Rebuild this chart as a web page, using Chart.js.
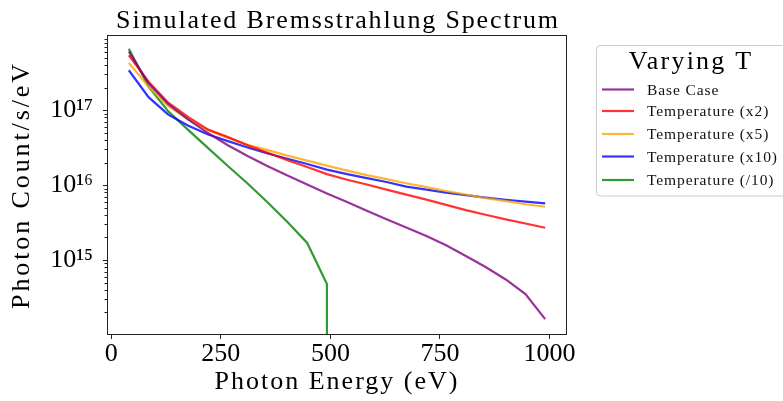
<!DOCTYPE html>
<html><head><meta charset="utf-8">
<script src="https://cdn.jsdelivr.net/npm/chart.js@4"></script>
<style>html,body{margin:0;padding:0;background:#fff;overflow:hidden}#wrap{width:783px;height:401px}</style>
</head><body><div id="wrap"><canvas id="c" width="783" height="401"></canvas></div>
<script>
// ---- data ----
const energies = [40, 85, 130, 176, 221, 266, 311, 357, 402, 447, 492, 538, 583, 628, 673, 719, 764, 809, 854, 900, 945, 990];
const baseCase = [6.1e17, 2.29e17, 1.2e17, 7.47e16, 4.93e16, 3.41e16, 2.44e16, 1.79e16, 1.34e16, 1.02e16, 7.74e15, 5.93e15, 4.54e15, 3.49e15, 2.71e15, 2.09e15, 1.57e15, 1.13e15, 8.07e14, 5.5e14, 3.52e14, 1.63e14];
const tempX2 = [5.41e17, 2.4e17, 1.26e17, 8.07e16, 5.5e16, 4.37e16, 3.41e16, 2.71e16, 2.15e16, 1.74e16, 1.4e16, 1.18e16, 1.02e16, 8.71e15, 7.47e15, 6.41e15, 5.45e15, 4.64e15, 4.02e15, 3.49e15, 3.07e15, 2.7e15];
const tempX5 = [4.28e17, 2.06e17, 1.13e17, 7.47e16, 5.41e16, 4.3e16, 3.44e16, 2.93e16, 2.47e16, 2.12e16, 1.82e16, 1.56e16, 1.36e16, 1.2e16, 1.06e16, 9.4e15, 8.35e15, 7.5e15, 6.7e15, 6.1e15, 5.55e15, 5.14e15];
const tempX10 = [3.41e17, 1.49e17, 8.71e16, 6.18e16, 4.73e16, 3.86e16, 3.18e16, 2.64e16, 2.25e16, 1.91e16, 1.61e16, 1.4e16, 1.24e16, 1.1e16, 9.55e15, 8.71e15, 7.94e15, 7.36e15, 6.81e15, 6.37e15, 6.01e15, 5.7e15];
const tempDiv10 = [6.61e17, 2.06e17, 9.64e16, 5.41e16, 3.11e16, 1.8e16, 1.05e16, 5.85e15, 3.21e15, 1.69e15, 4.8e14, 0, 0, 0, 0, 0, 0, 0, 0, 0, 0, 0];
const seriesNames = ['Base Case', 'Temperature (x2)', 'Temperature (x5)', 'Temperature (x10)', 'Temperature (/10)'];
const seriesColors = ['rgba(128,0,128,0.8)', 'rgba(255,0,0,0.8)', 'rgba(255,165,0,0.8)', 'rgba(0,0,255,0.8)', 'rgba(0,128,0,0.8)'];
const xTickValues = [0, 250, 500, 750, 1000];
const xTickLabels = ['0', '250', '500', '750', '1000'];
const yMajorTicks = [1e15, 1e16, 1e17];
const yTickLabels = ['10¹⁵', '10¹⁶', '10¹⁷'];
const chartTitle = 'Simulated Bremsstrahlung Spectrum';
const xTitle = 'Photon Energy (eV)';
const yTitle = 'Photon Count/s/eV';
const legendTitle = 'Varying T';

const FONT = "'Liberation Serif', 'DejaVu Serif', serif";
const allSeries = [baseCase, tempX2, tempX5, tempX10, tempDiv10];
// zero values are clipped to a tiny positive number on the log axis (as matplotlib does)
const datasets = allSeries.map((vals, i) => ({
  label: seriesNames[i],
  data: energies.map((e, j) => ({x: e, y: vals[j] > 0 ? vals[j] : 1e-300})),
  borderColor: seriesColors[i],
  backgroundColor: seriesColors[i],
  borderWidth: 2.2,
  pointRadius: 0,
  tension: 0,
  fill: false
}));

const Y_MIN = 1.03e14, Y_MAX = 9.77e17;

function spaced(ctx, px, fn) { ctx.save(); ctx.letterSpacing = px + 'px'; fn(); ctx.restore(); }

const decor = {
  id: 'decor',
  beforeDraw(chart) {
    const c = chart.ctx;
    c.save(); c.fillStyle = '#fff'; c.fillRect(0, 0, chart.width, chart.height); c.restore();
  },
  afterDraw(chart) {
    const c = chart.ctx, a = chart.chartArea, ys = chart.scales.y;
    c.save();
    // frame
    c.strokeStyle = '#222'; c.lineWidth = 1;
    c.strokeRect(a.left - 0.5, a.top - 0.5, a.right - a.left + 1, a.bottom - a.top + 1);
    // minor log ticks
    for (let e = 13; e <= 18; e++) {
      for (let m = 2; m <= 9; m++) {
        const v = m * Math.pow(10, e);
        if (v < Y_MIN || v > Y_MAX) continue;
        const y = Math.round(ys.getPixelForValue(v)) + 0.5;
        c.beginPath(); c.moveTo(a.left - 0.5, y); c.lineTo(a.left - 3.5, y); c.stroke();
      }
    }
    // title
    c.fillStyle = '#000';
    c.font = '26px ' + FONT;
    c.textAlign = 'center'; c.textBaseline = 'alphabetic';
    spaced(c, 1.85, () => c.fillText(chartTitle, (a.left + a.right) / 2 + 1, 28));
    // legend
    const bx = 596.5, by = 45.5, bw = 190, bh = 150.5, r = 4;
    c.beginPath();
    c.moveTo(bx + r, by); c.lineTo(bx + bw - r, by); c.quadraticCurveTo(bx + bw, by, bx + bw, by + r);
    c.lineTo(bx + bw, by + bh - r); c.quadraticCurveTo(bx + bw, by + bh, bx + bw - r, by + bh);
    c.lineTo(bx + r, by + bh); c.quadraticCurveTo(bx, by + bh, bx, by + bh - r);
    c.lineTo(bx, by + r); c.quadraticCurveTo(bx, by, bx + r, by);
    c.closePath();
    c.fillStyle = 'rgba(255,255,255,0.8)'; c.fill();
    c.strokeStyle = '#cccccc'; c.lineWidth = 1; c.stroke();
    c.fillStyle = '#000';
    c.font = '26px ' + FONT; c.textAlign = 'center';
    spaced(c, 2.2, () => c.fillText(legendTitle, 691, 69));
    const rows = [89.5, 111, 134, 156.5, 180];
    c.font = '15.5px ' + FONT; c.textAlign = 'left'; c.textBaseline = 'middle';
    seriesNames.forEach((n, i) => {
      c.strokeStyle = seriesColors[i]; c.lineWidth = 2.2;
      c.beginPath(); c.moveTo(602, rows[i]); c.lineTo(634, rows[i]); c.stroke();
      c.fillStyle = '#111';
      spaced(c, 0.9, () => c.fillText(n, 647, rows[i] + 1));
    });
    c.restore();
  }
};

const chart = new Chart(document.getElementById('c'), {
  type: 'line',
  data: {datasets},
  plugins: [decor],
  options: {
    responsive: false, animation: false, devicePixelRatio: 1,
    layout: {padding: {left: 0, top: 36, right: 217, bottom: 0}},
    plugins: {legend: {display: false}, title: {display: false}, tooltip: {enabled: false}},
    scales: {
      x: {
        type: 'linear', min: -7.5, max: 1037.5,
        afterBuildTicks(s) { s.ticks = xTickValues.map(v => ({value: v})); },
        afterFit(s) { s.height = 67; },
        grid: {drawOnChartArea: false, drawTicks: true, tickLength: 5, color: '#222'},
        border: {display: false},
        ticks: {
          autoSkip: false, maxRotation: 0, color: '#000', font: {family: FONT, size: 26}, padding: 0,
          callback(v) { const k = xTickValues.indexOf(v); return k >= 0 ? xTickLabels[k] : ''; }
        },
        title: {display: true, text: xTitle, color: '#000', font: {family: FONT, size: 26}, padding: {top: 0, bottom: 3}}
      },
      y: {
        type: 'logarithmic', min: Y_MIN, max: Y_MAX,
        afterBuildTicks(s) { s.ticks = yMajorTicks.map(v => ({value: v, major: true})); },
        afterFit(s) { s.width = 108; },
        grid: {drawOnChartArea: false, drawTicks: true, tickLength: 5, color: '#222'},
        border: {display: false},
        ticks: {
          autoSkip: false, color: '#000', font: {family: FONT, size: 26}, padding: 10,
          callback(v) { const k = yMajorTicks.indexOf(v); return k >= 0 ? yTickLabels[k] : ''; }
        },
        title: {display: true, text: yTitle, color: '#000', font: {family: FONT, size: 26}, padding: {top: 7, bottom: 0}}
      }
    }
  }
});
// axis titles: add letter spacing to approximate the wider Computer Modern glyphs
['x', 'y'].forEach(id => {
  const s = chart.scales[id];
  const orig = s.drawTitle;
  s.drawTitle = function () { const c = this.ctx; c.save(); c.letterSpacing = (id === 'x' ? 2 : 2.9) + 'px'; orig.apply(this, arguments); c.restore(); };
});
chart.draw();
</script>
</body></html>
